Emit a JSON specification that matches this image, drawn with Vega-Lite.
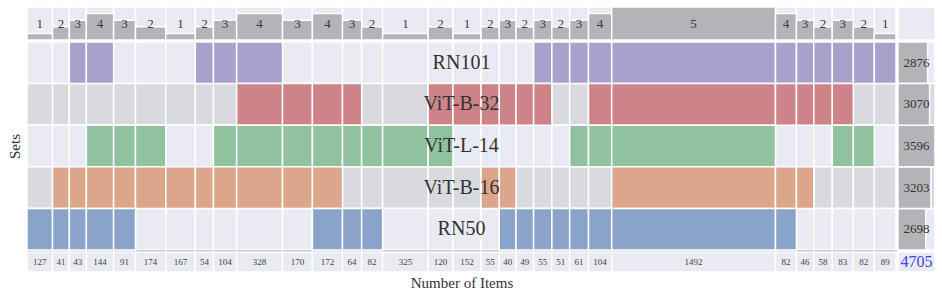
{
  "$schema": "https://vega.github.io/schema/vega-lite/v6.json",
  "padding": {"left": 7, "top": 6, "right": 0, "bottom": 0},
  "background": "white",
  "config": {"view": {"stroke": null}, "font": "Liberation Serif"},
  "datasets": {
    "cols": [
      {"id": 0, "count": 127, "degree": 1, "RN101": 0, "ViT-B-32": 0, "ViT-L-14": 0, "ViT-B-16": 0, "RN50": 1},
      {"id": 1, "count": 41, "degree": 2, "RN101": 0, "ViT-B-32": 0, "ViT-L-14": 0, "ViT-B-16": 1, "RN50": 1},
      {"id": 2, "count": 43, "degree": 3, "RN101": 1, "ViT-B-32": 0, "ViT-L-14": 0, "ViT-B-16": 1, "RN50": 1},
      {"id": 3, "count": 144, "degree": 4, "RN101": 1, "ViT-B-32": 0, "ViT-L-14": 1, "ViT-B-16": 1, "RN50": 1},
      {"id": 4, "count": 91, "degree": 3, "RN101": 0, "ViT-B-32": 0, "ViT-L-14": 1, "ViT-B-16": 1, "RN50": 1},
      {"id": 5, "count": 174, "degree": 2, "RN101": 0, "ViT-B-32": 0, "ViT-L-14": 1, "ViT-B-16": 1, "RN50": 0},
      {"id": 6, "count": 167, "degree": 1, "RN101": 0, "ViT-B-32": 0, "ViT-L-14": 0, "ViT-B-16": 1, "RN50": 0},
      {"id": 7, "count": 54, "degree": 2, "RN101": 1, "ViT-B-32": 0, "ViT-L-14": 0, "ViT-B-16": 1, "RN50": 0},
      {"id": 8, "count": 104, "degree": 3, "RN101": 1, "ViT-B-32": 0, "ViT-L-14": 1, "ViT-B-16": 1, "RN50": 0},
      {"id": 9, "count": 328, "degree": 4, "RN101": 1, "ViT-B-32": 1, "ViT-L-14": 1, "ViT-B-16": 1, "RN50": 0},
      {"id": 10, "count": 170, "degree": 3, "RN101": 0, "ViT-B-32": 1, "ViT-L-14": 1, "ViT-B-16": 1, "RN50": 0},
      {"id": 11, "count": 172, "degree": 4, "RN101": 0, "ViT-B-32": 1, "ViT-L-14": 1, "ViT-B-16": 1, "RN50": 1},
      {"id": 12, "count": 64, "degree": 3, "RN101": 0, "ViT-B-32": 1, "ViT-L-14": 1, "ViT-B-16": 0, "RN50": 1},
      {"id": 13, "count": 82, "degree": 2, "RN101": 0, "ViT-B-32": 0, "ViT-L-14": 1, "ViT-B-16": 0, "RN50": 1},
      {"id": 14, "count": 325, "degree": 1, "RN101": 0, "ViT-B-32": 0, "ViT-L-14": 1, "ViT-B-16": 0, "RN50": 0},
      {"id": 15, "count": 120, "degree": 2, "RN101": 0, "ViT-B-32": 1, "ViT-L-14": 1, "ViT-B-16": 0, "RN50": 0},
      {"id": 16, "count": 152, "degree": 1, "RN101": 0, "ViT-B-32": 1, "ViT-L-14": 0, "ViT-B-16": 0, "RN50": 0},
      {"id": 17, "count": 55, "degree": 2, "RN101": 0, "ViT-B-32": 1, "ViT-L-14": 0, "ViT-B-16": 1, "RN50": 0},
      {"id": 18, "count": 40, "degree": 3, "RN101": 0, "ViT-B-32": 1, "ViT-L-14": 0, "ViT-B-16": 1, "RN50": 1},
      {"id": 19, "count": 49, "degree": 2, "RN101": 0, "ViT-B-32": 1, "ViT-L-14": 0, "ViT-B-16": 0, "RN50": 1},
      {"id": 20, "count": 55, "degree": 3, "RN101": 1, "ViT-B-32": 1, "ViT-L-14": 0, "ViT-B-16": 0, "RN50": 1},
      {"id": 21, "count": 51, "degree": 2, "RN101": 1, "ViT-B-32": 0, "ViT-L-14": 0, "ViT-B-16": 0, "RN50": 1},
      {"id": 22, "count": 61, "degree": 3, "RN101": 1, "ViT-B-32": 0, "ViT-L-14": 1, "ViT-B-16": 0, "RN50": 1},
      {"id": 23, "count": 104, "degree": 4, "RN101": 1, "ViT-B-32": 1, "ViT-L-14": 1, "ViT-B-16": 0, "RN50": 1},
      {"id": 24, "count": 1492, "degree": 5, "RN101": 1, "ViT-B-32": 1, "ViT-L-14": 1, "ViT-B-16": 1, "RN50": 1},
      {"id": 25, "count": 82, "degree": 4, "RN101": 1, "ViT-B-32": 1, "ViT-L-14": 0, "ViT-B-16": 1, "RN50": 1},
      {"id": 26, "count": 46, "degree": 3, "RN101": 1, "ViT-B-32": 1, "ViT-L-14": 0, "ViT-B-16": 1, "RN50": 0},
      {"id": 27, "count": 58, "degree": 2, "RN101": 1, "ViT-B-32": 1, "ViT-L-14": 0, "ViT-B-16": 0, "RN50": 0},
      {"id": 28, "count": 83, "degree": 3, "RN101": 1, "ViT-B-32": 1, "ViT-L-14": 1, "ViT-B-16": 0, "RN50": 0},
      {"id": 29, "count": 82, "degree": 2, "RN101": 1, "ViT-B-32": 0, "ViT-L-14": 1, "ViT-B-16": 0, "RN50": 0},
      {"id": 30, "count": 89, "degree": 1, "RN101": 1, "ViT-B-32": 0, "ViT-L-14": 0, "ViT-B-16": 0, "RN50": 0}
    ]
  },
  "columns": 2,
  "spacing": 0,
  "concat": [
    {
      "width": 869,
      "height": 33,
      "data": {"name": "cols"},
      "transform": [
        {"calculate": "datum.count + 125", "as": "w"},
        {"window": [{"op": "sum", "field": "w", "as": "x1"}], "sort": [{"field": "id"}], "frame": [null, 0]},
        {"calculate": "datum.x1 - datum.w", "as": "x0"},
        {"calculate": "(datum.x0 + datum.x1) / 2", "as": "xm"}
      ],
      "layer": [
        {
          "mark": {"type": "rect", "fill": "#EAEAF2", "stroke": "white", "strokeWidth": 1.5},
          "encoding": {
            "x": {"field": "x0", "type": "quantitative", "scale": {"nice": false, "zero": true}, "axis": null},
            "x2": {"field": "x1"}
          }
        },
        {
          "mark": {"type": "rect", "fill": "#B4B4B8", "stroke": "white", "strokeWidth": 1.5},
          "encoding": {
            "x": {"field": "x0", "type": "quantitative"},
            "x2": {"field": "x1"},
            "y": {"field": "degree", "type": "quantitative", "scale": {"domain": [0, 5], "nice": false}, "axis": null},
            "y2": {"datum": 0}
          }
        },
        {
          "mark": {"type": "text", "fontSize": 13, "color": "#3a3a3a", "font": "Liberation Serif"},
          "encoding": {
            "x": {"field": "xm", "type": "quantitative"},
            "text": {"field": "degree", "type": "quantitative"}
          }
        }
      ]
    },
    {
      "width": 37,
      "height": 33,
      "data": {"values": [{}]},
      "mark": {"type": "rect", "fill": "#EAEAF2", "stroke": "white", "strokeWidth": 1.5},
      "encoding": {}
    },
    {
      "width": 869,
      "height": 208,
      "data": {"name": "cols"},
      "transform": [
        {"calculate": "datum.count + 125", "as": "w"},
        {"window": [{"op": "sum", "field": "w", "as": "x1"}], "sort": [{"field": "id"}], "frame": [null, 0]},
        {"calculate": "datum.x1 - datum.w", "as": "x0"},
        {"fold": ["RN101", "ViT-B-32", "ViT-L-14", "ViT-B-16", "RN50"], "as": ["set", "member"]}
      ],
      "layer": [
        {
          "mark": {"type": "rect", "stroke": "white", "strokeWidth": 1.5},
          "encoding": {
            "x": {"field": "x0", "type": "quantitative", "scale": {"nice": false, "zero": true},
              "axis": {"title": null, "labels": false, "ticks": false, "grid": false, "domain": true, "domainColor": "#222", "domainWidth": 2}},
            "x2": {"field": "x1"},
            "y": {"field": "set", "type": "nominal", "sort": ["RN101", "ViT-B-32", "ViT-L-14", "ViT-B-16", "RN50"],
              "scale": {"paddingInner": 0, "paddingOuter": 0},
              "axis": {"title": "Sets", "labels": false, "ticks": false, "domain": false, "grid": false, "titleFont": "Liberation Serif", "titleFontSize": 15, "titleFontWeight": "normal", "titleColor": "#333", "titlePadding": 5}},
            "fill": {"condition": {"test": "datum.set === 'ViT-B-32' || datum.set === 'ViT-B-16'", "value": "#D9DADF"}, "value": "#EAEAF2"}
          }
        },
        {
          "transform": [{"filter": "datum.member === 1"}],
          "mark": {"type": "rect", "stroke": "white", "strokeWidth": 1.5},
          "encoding": {
            "x": {"field": "x0", "type": "quantitative"},
            "x2": {"field": "x1"},
            "y": {"field": "set", "type": "nominal", "sort": ["RN101", "ViT-B-32", "ViT-L-14", "ViT-B-16", "RN50"]},
            "fill": {"field": "set", "type": "nominal", "legend": null,
              "scale": {"domain": ["RN101", "ViT-B-32", "ViT-L-14", "ViT-B-16", "RN50"], "range": ["#A9A1CB", "#CD8387", "#90C29F", "#DBA68A", "#8AA3CA"]}}
          }
        },
        {
          "transform": [{"aggregate": [{"op": "count", "as": "n"}], "groupby": ["set"]}],
          "mark": {"type": "text", "fontSize": 20, "color": "#333", "font": "Liberation Serif"},
          "encoding": {
            "y": {"field": "set", "type": "nominal", "sort": ["RN101", "ViT-B-32", "ViT-L-14", "ViT-B-16", "RN50"]},
            "text": {"field": "set", "type": "nominal"}
          }
        }
      ]
    },
    {
      "width": 37,
      "height": 208,
      "data": {"name": "cols"},
      "transform": [
        {"fold": ["RN101", "ViT-B-32", "ViT-L-14", "ViT-B-16", "RN50"], "as": ["set", "member"]},
        {"filter": "datum.member === 1"},
        {"aggregate": [{"op": "sum", "field": "count", "as": "size"}], "groupby": ["set"]}
      ],
      "layer": [
        {
          "mark": {"type": "rect", "stroke": "white", "strokeWidth": 1.5},
          "encoding": {
            "y": {"field": "set", "type": "nominal", "sort": ["RN101", "ViT-B-32", "ViT-L-14", "ViT-B-16", "RN50"],
              "scale": {"paddingInner": 0, "paddingOuter": 0}, "axis": null},
            "fill": {"condition": {"test": "datum.set === 'ViT-B-32' || datum.set === 'ViT-B-16'", "value": "#D9DADF"}, "value": "#EAEAF2"}
          }
        },
        {
          "mark": {"type": "bar", "fill": "#B4B4B8", "stroke": "white", "strokeWidth": 1.5},
          "encoding": {
            "y": {"field": "set", "type": "nominal", "sort": ["RN101", "ViT-B-32", "ViT-L-14", "ViT-B-16", "RN50"]},
            "x": {"field": "size", "type": "quantitative", "scale": {"nice": false, "zero": true}, "axis": null}
          }
        },
        {
          "mark": {"type": "text", "fontSize": 13, "color": "#333", "font": "Liberation Serif"},
          "encoding": {
            "y": {"field": "set", "type": "nominal", "sort": ["RN101", "ViT-B-32", "ViT-L-14", "ViT-B-16", "RN50"]},
            "text": {"field": "size", "type": "quantitative"}
          }
        }
      ]
    },
    {
      "width": 869,
      "height": 20,
      "data": {"name": "cols"},
      "transform": [
        {"calculate": "datum.count + 125", "as": "w"},
        {"window": [{"op": "sum", "field": "w", "as": "x1"}], "sort": [{"field": "id"}], "frame": [null, 0]},
        {"calculate": "datum.x1 - datum.w", "as": "x0"},
        {"calculate": "(datum.x0 + datum.x1) / 2", "as": "xm"}
      ],
      "layer": [
        {
          "mark": {"type": "rect", "fill": "#EAEAF2", "stroke": "white", "strokeWidth": 1.5},
          "encoding": {
            "x": {"field": "x0", "type": "quantitative", "scale": {"nice": false, "zero": true},
              "axis": {"title": "Number of Items", "labels": false, "ticks": false, "domain": false, "grid": false, "titleFont": "Liberation Serif", "titleFontSize": 15, "titleFontWeight": "normal", "titleColor": "#333", "titlePadding": 3}},
            "x2": {"field": "x1"}
          }
        },
        {
          "mark": {"type": "text", "fontSize": 9, "color": "#444", "font": "Liberation Serif"},
          "encoding": {
            "x": {"field": "xm", "type": "quantitative"},
            "text": {"field": "count", "type": "quantitative"}
          }
        }
      ]
    },
    {
      "width": 37,
      "height": 20,
      "data": {"name": "cols"},
      "transform": [{"aggregate": [{"op": "sum", "field": "count", "as": "total"}]}],
      "layer": [
        {
          "mark": {"type": "rect", "fill": "#EAEAF2", "stroke": "white", "strokeWidth": 1.5},
          "encoding": {}
        },
        {
          "mark": {"type": "text", "fontSize": 16, "color": "#4040F0", "font": "Liberation Serif"},
          "encoding": {"text": {"field": "total", "type": "quantitative"}}
        }
      ]
    }
  ]
}
